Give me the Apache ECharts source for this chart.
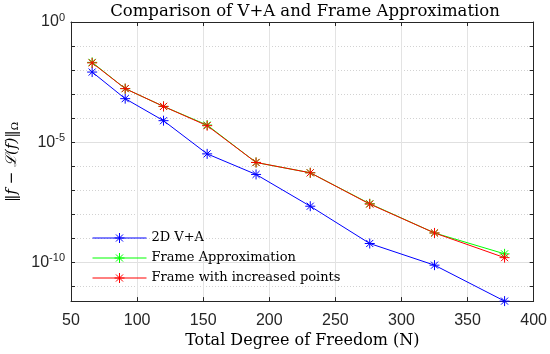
<!DOCTYPE html>
<html>
<head>
<meta charset="utf-8">
<script src="https://cdn.jsdelivr.net/npm/echarts@6/dist/echarts.min.js"></script>
<style>html,body{margin:0;padding:0;background:#fff;}#c{width:550px;height:354px;}</style>
</head>
<body>
<div id="c"></div>
<script>
const N = [66, 91, 120, 153, 190, 231, 276, 325, 378];
const errVA = [8.3e-3, 6.5e-4, 7.9e-5, 3.3e-6, 4.6e-7, 2.2e-8, 6.2e-10, 7.8e-11, 2.5e-12];
const errFrame = [2.1e-2, 1.7e-3, 3.1e-4, 5.2e-5, 1.45e-6, 5.4e-7, 2.8e-8, 1.7e-9, 2.3e-10];
const errFrameMore = [2.0e-2, 1.7e-3, 3.1e-4, 4.9e-5, 1.45e-6, 5.4e-7, 2.7e-8, 1.7e-9, 1.6e-10];
const seriesNames = ['2D V+A', 'Frame Approximation', 'Frame with increased points'];
const seriesColors = ['#0000ff', '#00ff00', '#ff0000'];
const yMajor = [1, 1e-5, 1e-10];
const yMinor = [1, 1e-1, 1e-2, 1e-3, 1e-4, 1e-5, 1e-6, 1e-7, 1e-8, 1e-9, 1e-10, 1e-11];
const yMin = 2.5e-12, yMax = 1;

const AST = 'path://M0,-10 L0,10 M-10,0 L10,0 M-7.07,-7.07 L7.07,7.07 M-7.07,7.07 L7.07,-7.07';
const LEG_ICON = 'path://M0,5 L54,5 M27,0 L27,10 M22,5 L32,5 M23.46,1.46 L30.54,8.54 M23.46,8.54 L30.54,1.46';
const AX = '#262626';
const SERIF = 'DejaVu Serif';
const pairs = a => N.map((n, i) => [n, a[i]]);
function mk(name, data, color) {
  return {
    name, type: 'line', data: pairs(data), clip: false, yAxisIndex: 1,
    symbol: AST, symbolSize: 10, color,
    lineStyle: {color, width: 1},
    itemStyle: {color, borderColor: color, borderWidth: 1},
    emphasis: {disabled: true}, animation: false
  };
}
function supFmt(v) {
  const e = Math.round(Math.log10(v));
  return '{b|10}{s|' + e + '}';
}
const rich = {
  b: {fontFamily: 'Liberation Sans', fontSize: 16, color: AX},
  s: {fontFamily: 'Liberation Sans', fontSize: 11, color: AX, padding: [0, 0, 9, 0]}
};
const chart = echarts.init(document.getElementById('c'), null, {renderer: 'canvas'});
chart.setOption({
  animation: false,
  backgroundColor: '#fff',
  title: {
    text: 'Comparison of V+A and Frame Approximation',
    left: 300, textAlign: 'center', top: -2,
    textStyle: {fontFamily: SERIF, fontWeight: 'normal', fontSize: 16.5, color: '#000'}
  },
  grid: {left: 71, right: 14, top: 22, bottom: 52, show: false},
  legend: {
    orient: 'vertical', left: 92, top: 231.5, padding: 0, itemWidth: 54, itemHeight: 10, itemGap: 7,
    icon: LEG_ICON,
    data: seriesNames.map((n, i) => ({
      name: n,
      itemStyle: {color: seriesColors[i], borderColor: seriesColors[i], borderWidth: 1}
    })),
    textStyle: {fontFamily: SERIF, fontSize: 13, color: '#000'}
  },
  graphic: [{
    type: 'text', x: 12, y: 162, rotation: Math.PI / 2,
    style: {
      text: '{i|‖f − ℒ(f)‖}{o|Ω}', align: 'center', verticalAlign: 'middle',
      rich: {
        i: {fontFamily: SERIF, fontStyle: 'italic', fontSize: 15, fill: '#000'},
        o: {fontFamily: SERIF, fontSize: 10, fill: '#000', padding: [7, 0, 0, 0]}
      }
    }
  }],
  xAxis: [{
    type: 'value', min: 50, max: 400, interval: 50,
    name: 'Total Degree of Freedom (N)', nameLocation: 'middle', nameGap: 30,
    nameTextStyle: {fontFamily: SERIF, fontSize: 16, color: '#000'},
    axisLine: {show: true, onZero: false, lineStyle: {color: AX, width: 1}},
    axisTick: {show: true, inside: true, length: 4, lineStyle: {color: AX}},
    axisLabel: {margin: 11, fontFamily: 'Liberation Sans', fontSize: 16, color: AX},
    splitLine: {show: true, lineStyle: {color: '#e3e3e3', width: 1}}
  }, {
    type: 'value', min: 50, max: 400, interval: 50, position: 'top',
    axisLine: {show: true, onZero: false, lineStyle: {color: AX, width: 1}},
    axisTick: {show: true, inside: true, length: 4, lineStyle: {color: AX}},
    axisLabel: {show: false}, splitLine: {show: false}
  }],
  yAxis: [{
    type: 'log', min: yMin, max: yMax,
    axisLine: {show: false},
    axisTick: {show: false, customValues: yMinor},
    axisLabel: {show: false, customValues: yMinor},
    splitLine: {show: true, lineStyle: {color: '#d2d2d2', width: 1, type: [1, 2]}}
  }, {
    type: 'log', min: yMin, max: yMax, position: 'left',
    axisLine: {show: true, onZero: false, lineStyle: {color: AX, width: 1}},
    axisTick: {show: true, inside: true, length: 4, customValues: yMinor, lineStyle: {color: AX}},
    axisLabel: {show: true, customValues: yMajor, formatter: supFmt, rich, margin: 6},
    splitLine: {show: false}
  }, {
    type: 'log', min: yMin, max: yMax, position: 'right',
    axisLine: {show: true, onZero: false, lineStyle: {color: AX, width: 1}},
    axisTick: {show: true, inside: true, length: 4, customValues: yMinor, lineStyle: {color: AX}},
    axisLabel: {show: false}, splitLine: {show: false}
  }, {
    type: 'log', min: yMin, max: yMax, position: 'left',
    axisLine: {show: false}, axisTick: {show: false, customValues: yMajor},
    axisLabel: {show: false, customValues: yMajor},
    splitLine: {show: true, lineStyle: {color: '#e0e0e0', width: 1}}
  }],
  series: seriesNames.map((n, i) => mk(n, [errVA, errFrame, errFrameMore][i], seriesColors[i]))
});
</script>
</body>
</html>
